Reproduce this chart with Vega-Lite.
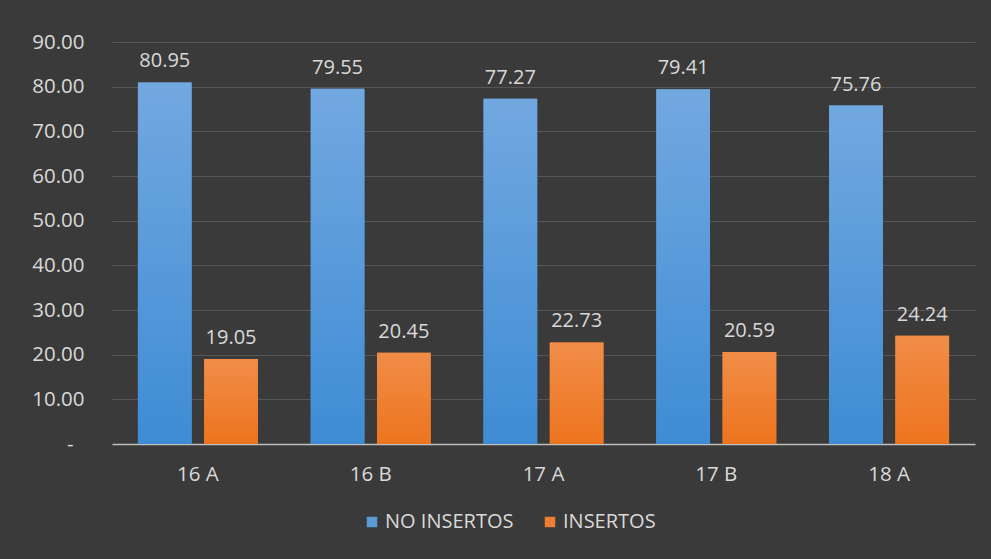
{
  "$schema": "https://vega.github.io/schema/vega-lite/v6.json",
  "width": 863,
  "height": 402,
  "autosize": {"type": "none"},
  "padding": {"left": 112, "top": 42, "right": 16, "bottom": 115},
  "background": "#3a3a3a",
  "config": {
    "font": "Open Sans",
    "view": {"stroke": null},
    "axis": {"labelColor": "#d9d9d9", "labelFontSize": 20.5, "labelFont": "Open Sans", "ticks": false, "title": null}
  },
  "data": {
    "values": [
      {"grupo": "16 A", "serie": "NO INSERTOS", "valor": 80.95},
      {"grupo": "16 A", "serie": "INSERTOS", "valor": 19.05},
      {"grupo": "16 B", "serie": "NO INSERTOS", "valor": 79.55},
      {"grupo": "16 B", "serie": "INSERTOS", "valor": 20.45},
      {"grupo": "17 A", "serie": "NO INSERTOS", "valor": 77.27},
      {"grupo": "17 A", "serie": "INSERTOS", "valor": 22.73},
      {"grupo": "17 B", "serie": "NO INSERTOS", "valor": 79.41},
      {"grupo": "17 B", "serie": "INSERTOS", "valor": 20.59},
      {"grupo": "18 A", "serie": "NO INSERTOS", "valor": 75.76},
      {"grupo": "18 A", "serie": "INSERTOS", "valor": 24.24}
    ]
  },
  "encoding": {
    "x": {
      "field": "grupo", "type": "nominal", "sort": null,
      "scale": {"paddingInner": 0.306, "paddingOuter": 0.15},
      "axis": {"labelAngle": 0, "labelPadding": 20, "domainColor": "#bfbfbf", "domainWidth": 1.5, "grid": false}
    },
    "xOffset": {"field": "serie", "type": "nominal", "sort": ["NO INSERTOS", "INSERTOS"], "scale": {"paddingInner": 0.19, "paddingOuter": 0}},
    "y": {
      "field": "valor", "type": "quantitative",
      "scale": {"domain": [0, 90], "nice": false},
      "axis": {"values": [0, 10, 20, 30, 40, 50, 60, 70, 80, 90], "domain": false, "gridColor": "#565656", "gridWidth": 1,
        "labelPadding": {"condition": {"test": "datum.value == 0", "value": 39}, "value": 28},
        "labelExpr": "datum.value == 0 ? '-' : format(datum.value, '.2f')"}
    }
  },
  "layer": [
    {
      "mark": {"type": "bar"},
      "encoding": {
        "color": {
          "field": "serie", "type": "nominal", "sort": ["NO INSERTOS", "INSERTOS"],
          "scale": {"domain": ["NO INSERTOS", "INSERTOS"], "range": ["#5b9bd5", "#ed7d31"]},
          "legend": {
            "title": null, "orient": "none", "direction": "horizontal",
            "legendX": 250, "legendY": 470,
            "symbolType": "square", "symbolSize": 110, "symbolStrokeWidth": 0,
            "labelColor": "#d9d9d9", "labelFontSize": 20, "labelFont": "Open Sans",
            "columnPadding": 26, "labelOffset": 3
          }
        }
      }
    },
    {
      "transform": [{"filter": "datum.serie == 'NO INSERTOS'"}],
      "mark": {"type": "bar", "color": {"gradient": "linear", "x1": 0, "y1": 0, "x2": 0, "y2": 1, "stops": [{"offset": 0, "color": "#72a8e0"}, {"offset": 1, "color": "#3e8cd5"}]}},
      "encoding": {}
    },
    {
      "transform": [{"filter": "datum.serie == 'INSERTOS'"}],
      "mark": {"type": "bar", "color": {"gradient": "linear", "x1": 0, "y1": 0, "x2": 0, "y2": 1, "stops": [{"offset": 0, "color": "#f18d48"}, {"offset": 1, "color": "#ed741e"}]}},
      "encoding": {}
    },
    {
      "mark": {"type": "text", "baseline": "bottom", "dy": -11, "fontSize": 20, "color": "#d9d9d9", "font": "Open Sans"},
      "encoding": {"text": {"field": "valor", "type": "quantitative", "format": ".2f"}}
    }
  ]
}
